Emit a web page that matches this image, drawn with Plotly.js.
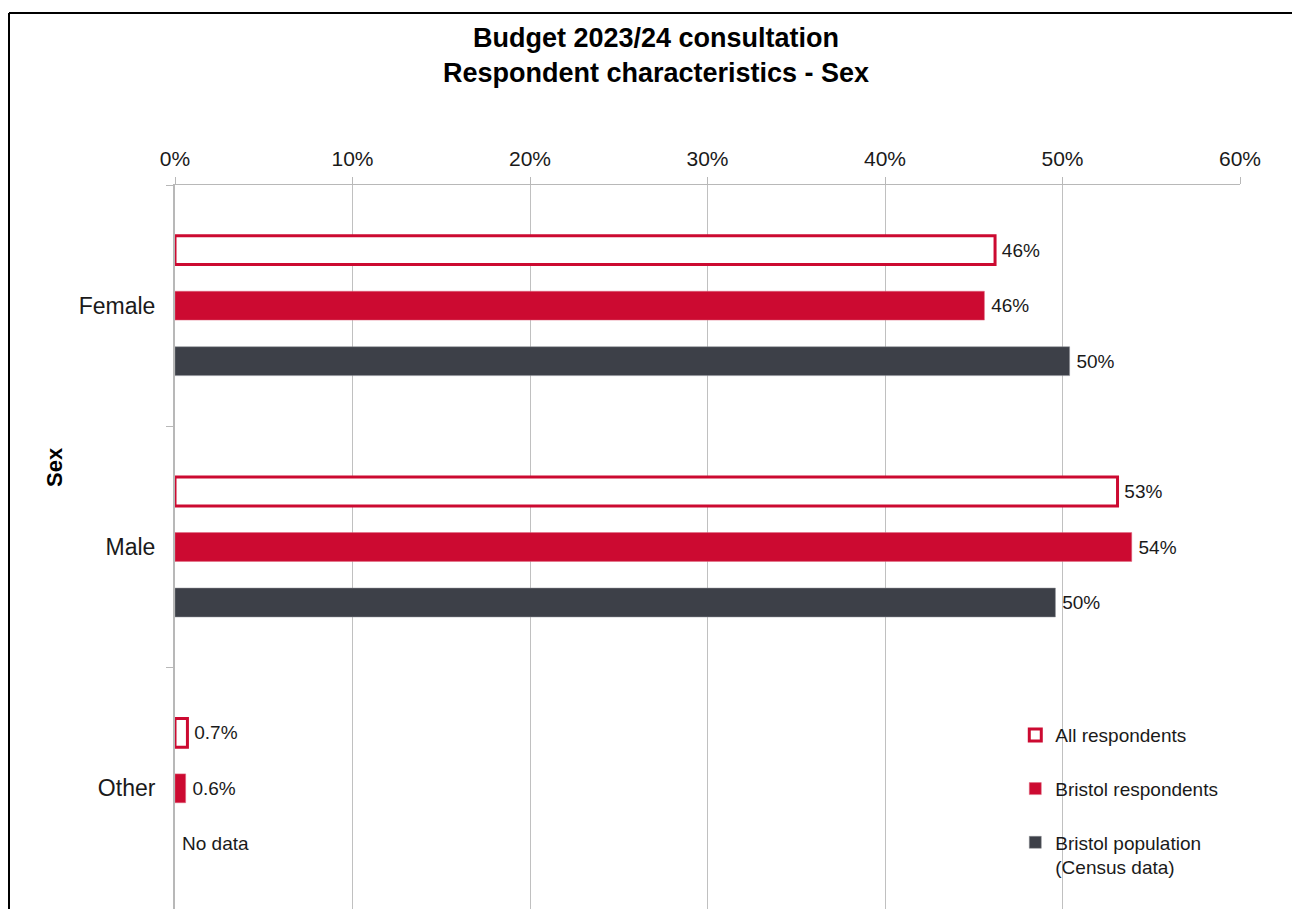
<!DOCTYPE html>
<html>
<head>
<meta charset="utf-8">
<script src="https://cdn.plot.ly/plotly-3.0.1.min.js"></script>
<style>
  html, body { margin: 0; padding: 0; background: #ffffff; }
  #chart { width: 1292px; height: 909px; }
</style>
</head>
<body>
<div id="chart"></div>
<script>
// ---- Data ----
const categories = ["Female", "Male", "Other"];
const seriesNames = ["All respondents", "Bristol respondents", "Bristol population<br>(Census data)"];
const allRespondents = [46.2, 53.1, 0.7];
const bristolRespondents = [45.6, 53.9, 0.6];
const bristolPopulation = [50.4, 49.6, null];
const allLabels = ["46%", "53%", "0.7%"];
const bristolLabels = ["46%", "54%", "0.6%"];
const populationLabels = ["50%", "50%", ""];
const noDataText = "No data";
const xTickVals = [0, 10, 20, 30, 40, 50, 60];
const xTickText = ["0%", "10%", "20%", "30%", "40%", "50%", "60%"];

const RED = "#cc0a31";
const GREY = "#3d4048";
const FONT = "Liberation Sans, Arial, Helvetica, sans-serif";
const labelFont = { family: FONT, size: 19, color: "#1a1a1a" };

const traces = [
  {
    type: "bar", orientation: "h", name: seriesNames[0], legendgroup: "a",
    y: categories, x: allRespondents, text: allLabels,
    texttemplate: "\u2009%{text}",
    textposition: "outside", textfont: labelFont, cliponaxis: false,
    marker: { color: "#ffffff", line: { color: RED, width: 3 } },
    hoverinfo: "skip"
  },
  {
    type: "bar", orientation: "h", name: seriesNames[1], legendgroup: "b",
    y: categories, x: bristolRespondents, text: bristolLabels,
    texttemplate: "\u2009%{text}",
    textposition: "outside", textfont: labelFont, cliponaxis: false,
    marker: { color: RED, line: { color: "#e06a80", width: 0.5 } },
    hoverinfo: "skip"
  },
  {
    type: "bar", orientation: "h", name: seriesNames[2], legendgroup: "c",
    y: categories, x: bristolPopulation, text: populationLabels,
    texttemplate: "\u2009%{text}",
    textposition: "outside", textfont: labelFont, cliponaxis: false,
    marker: { color: GREY, line: { color: "#8a8d93", width: 0.5 } },
    hoverinfo: "skip"
  }
];

const layout = {
  width: 1292, height: 909,
  paper_bgcolor: "#ffffff", plot_bgcolor: "#ffffff",
  margin: { l: 175, r: 52, t: 185, b: 0, pad: 0 },
  font: { family: FONT, color: "#1a1a1a" },
  title: {
    text: "<b>Budget 2023/24 consultation<br>Respondent characteristics - Sex</b>",
    font: { family: FONT, size: 27, color: "#000000" },
    x: 656 / 1292, xref: "container", xanchor: "center",
    y: 1 - 47 / 909, yref: "container", yanchor: "middle"
  },
  barmode: "group",
  bargap: 0.31,
  bargroupgap: 0.48,
  showlegend: true,
  legend: {
    x: 0.789, y: 0.2665, xanchor: "left", yanchor: "top",
    xref: "paper", yref: "paper",
    font: { family: FONT, size: 19, color: "#1a1a1a" },
    tracegroupgap: 26, itemwidth: 30, valign: "top",
    bgcolor: "rgba(0,0,0,0)", traceorder: "grouped"
  },
  xaxis: {
    side: "top", range: [0, 60], tickvals: xTickVals, ticktext: xTickText,
    showgrid: true, gridcolor: "#c0c0c0", gridwidth: 1,
    showline: true, linecolor: "#b8b8b8", linewidth: 1,
    ticks: "outside", ticklen: 7, tickcolor: "#b8b8b8",
    tickfont: { family: FONT, size: 21, color: "#1a1a1a" },
    ticklabelstandoff: 3,
    zeroline: false, fixedrange: true
  },
  yaxis: {
    type: "category", autorange: "reversed",
    showline: true, linecolor: "#b8b8b8", linewidth: 2,
    ticks: "outside", ticklen: 7, tickcolor: "#b8b8b8", tickson: "boundaries",
    showgrid: false, zeroline: false,
    tickfont: { family: FONT, size: 23, color: "#1a1a1a" },
    ticklabelstandoff: 13,
    fixedrange: true
  },
  annotations: [
    {
      x: 0, y: 2.23, xref: "x", yref: "y", text: noDataText,
      showarrow: false, xanchor: "left", yanchor: "middle", xshift: 5,
      font: labelFont
    },
    {
      x: (55 - 175) / 1065, y: (909 - 467) / 724, xref: "paper", yref: "paper",
      text: "<b>Sex</b>", textangle: -90, showarrow: false,
      xanchor: "center", yanchor: "middle",
      font: { family: FONT, size: 22, color: "#000000" }
    }
  ],
  shapes: [
    {
      type: "line", xref: "paper", yref: "paper",
      x0: (9 - 175) / 1065, x1: (9 - 175) / 1065,
      y0: -0.05, y1: 1 + (185 - 13) / 724,
      line: { color: "#000000", width: 2 }
    },
    {
      type: "line", xref: "paper", yref: "paper",
      x0: (9 - 175) / 1065, x1: 1.1,
      y0: 1 + (185 - 13) / 724, y1: 1 + (185 - 13) / 724,
      line: { color: "#000000", width: 2 }
    }
  ]
};

Plotly.newPlot("chart", traces, layout, { staticPlot: true, displayModeBar: false });
</script>
</body>
</html>
